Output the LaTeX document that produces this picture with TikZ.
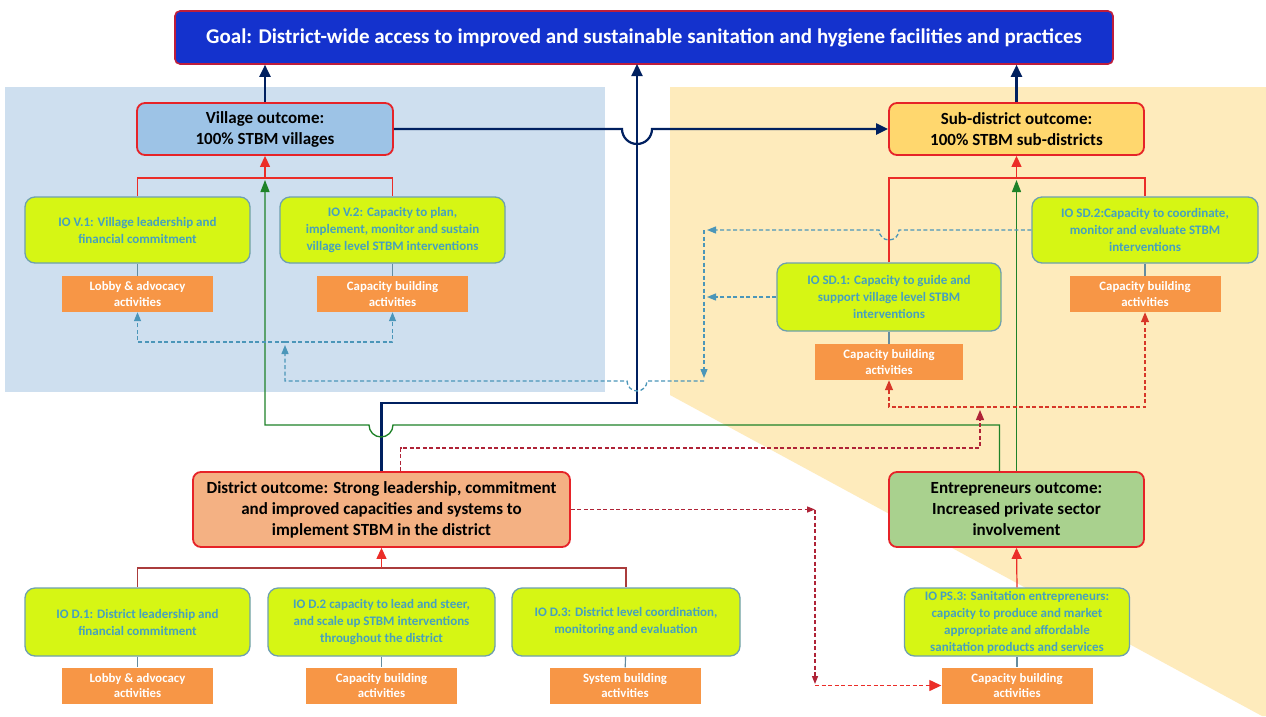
\documentclass[tikz,border=0pt]{standalone}
\usepackage{fontspec}
\setmainfont{Carlito}
\usetikzlibrary{arrows.meta,calc}
\definecolor{goalblue}{RGB}{20,50,205}
\definecolor{goalred}{RGB}{190,30,60}
\definecolor{outred}{RGB}{230,35,40}
\definecolor{navyln}{RGB}{0,32,96}
\definecolor{vilblue}{RGB}{157,195,230}
\definecolor{subgold}{RGB}{255,215,110}
\definecolor{distorange}{RGB}{244,177,131}
\definecolor{entgreen}{RGB}{169,209,142}
\definecolor{iolime}{RGB}{214,246,20}
\definecolor{ioedge}{RGB}{110,160,175}
\definecolor{iotext}{RGB}{70,160,190}
\definecolor{actorange}{RGB}{247,150,70}
\definecolor{bgblue}{RGB}{206,223,239}
\definecolor{bgyellow}{RGB}{254,235,188}
\definecolor{brkred}{RGB}{235,45,40}
\definecolor{brkmaroon}{RGB}{170,60,60}
\definecolor{arrgreen}{RGB}{30,130,40}
\definecolor{dashteal}{RGB}{75,150,185}
\definecolor{dashred}{RGB}{215,55,40}
\definecolor{dashmaroon}{RGB}{175,35,55}
\definecolor{linkgrey}{RGB}{100,140,160}
\begin{document}
\begin{tikzpicture}[x=1pt,y=-1pt,
  goalbox/.style={draw=goalred,line width=1.6pt,fill=goalblue,rounded corners=5pt,text=white,font=\fontsize{21}{24}\selectfont\bfseries,minimum width=938pt,minimum height=53pt},
  outbox/.style={draw=outred,line width=1.8pt,rounded corners=8pt,align=center,font=\fontsize{17}{21}\selectfont\bfseries,minimum height=52pt,inner sep=1pt},
  iobox/.style={draw=ioedge,line width=1.3pt,fill=iolime,rounded corners=10pt,text=iotext,align=center,font=\fontsize{13}{17}\selectfont\bfseries,minimum width=225pt,minimum height=66pt,inner sep=1pt},
  actbox/.style={fill=actorange,text=white,align=center,font=\fontsize{12.8}{15.5}\selectfont\bfseries,minimum width=151pt,minimum height=36pt,inner sep=1pt},
  navyarr/.style={draw=navyln,line width=2.2pt,-{Triangle[length=12pt,width=11pt]}},
  brk/.style={draw=brkred,line width=1.2pt},
  redarr/.style={draw=brkred,line width=1.2pt,-{Triangle[length=11pt,width=10pt]}},
  greenarr/.style={draw=arrgreen,line width=1.3pt,-{Triangle[length=12pt,width=9pt]}},
  tealarr/.style={draw=dashteal,line width=1.3pt,dash pattern=on 4pt off 2.5pt,-{Triangle[length=9pt,width=7pt]}},
  rdarr/.style={draw=dashred,line width=1.3pt,dash pattern=on 4pt off 2.5pt,-{Triangle[length=10pt,width=8pt]}},
  mdarr/.style={draw=dashmaroon,line width=1.3pt,dash pattern=on 4pt off 2.5pt,-{Triangle[length=8pt,width=6pt]}},
  link/.style={draw=linkgrey,line width=1.2pt}]
\useasboundingbox (0,0) rectangle (1266,716);
\fill[white] (0,0) rectangle (1266,716);
\fill[bgblue] (5,87) rectangle (605,392);
\fill[bgyellow] (670,87) -- (1266,87) -- (1266,716) -- (1262,716) -- (670,395) -- cycle;

\node[goalbox] (goal) at (644,37.5) {Goal: District-wide access to improved and sustainable sanitation and hygiene facilities and practices};
\node[outbox,fill=vilblue,minimum width=256pt] (vil) at (265,129) {Village outcome:\\100\% STBM villages};
\node[outbox,fill=subgold,minimum width=255pt] (sub) at (1016.5,129) {Sub-district outcome:\\100\% STBM sub-districts};
\node[iobox] (iov1) at (137.5,230) {IO V.1: Village leadership and\\financial commitment};
\node[iobox] (iov2) at (392.5,230) {IO V.2: Capacity to plan,\\implement, monitor and sustain\\village level STBM interventions};
\node[actbox] (lobv) at (137.5,294) {Lobby \& advocacy\\activities};
\node[actbox] (capv) at (392.5,294) {Capacity building\\activities};
\node[iobox,minimum width=226pt] (sd2) at (1145,230) {IO SD.2:Capacity to coordinate,\\monitor and evaluate STBM\\interventions};
\node[actbox] (sd2cap) at (1145,294) {Capacity building\\activities};
\node[iobox,minimum width=224pt,minimum height=68pt] (sd1) at (889,297) {IO SD.1: Capacity to guide and\\support village level STBM\\interventions};
\node[actbox,minimum width=148pt] (sd1cap) at (889,362) {Capacity building\\activities};
\node[outbox,fill=distorange,minimum width=377pt,minimum height=75pt] (dist) at (381.5,509.5) {District outcome: Strong leadership, commitment\\and improved capacities and systems to\\implement STBM in the district};
\node[outbox,fill=entgreen,minimum width=255pt,minimum height=75pt] (ent) at (1016.5,509.5) {Entrepreneurs outcome:\\Increased private sector\\involvement};
\node[iobox,minimum height=68pt] (iod1) at (137.5,622) {IO D.1: District leadership and\\financial commitment};
\node[iobox,minimum width=227pt,minimum height=68pt] (iod2) at (381.5,622) {IO D.2 capacity to lead and steer,\\and scale up STBM interventions\\throughout  the district};
\node[iobox,minimum width=228pt,minimum height=68pt] (iod3) at (626,622) {IO D.3: District level coordination,\\monitoring and evaluation};
\node[iobox,minimum height=68pt] (ps3) at (1017,622) {IO PS.3: Sanitation entrepreneurs:\\capacity to produce and market\\appropriate and affordable\\sanitation products and services};
\node[actbox] (lobd) at (137.5,685.5) {Lobby \& advocacy\\activities};
\node[actbox] (capd) at (381.5,685.5) {Capacity building\\activities};
\node[actbox] (sysd) at (625,685.5) {System building\\activities};
\node[actbox] (pscap) at (1017,685.5) {Capacity building\\activities};

\coordinate (gmid) at (637,64);
\coordinate (vjoin) at (265,178);
\coordinate (sjoin) at (1016.5,178);
\coordinate (djoin) at (381.5,568);
\coordinate (tcorner) at (704,381);
\coordinate (tsplit) at (285,342);
\coordinate (rsplit) at (980,407);
\coordinate (mcorner) at (815,509.5);

\draw[link] (iov1) -- (lobv);
\draw[link] (iov2) -- (capv);
\draw[link] (sd2) -- (sd2cap);
\draw[link] (sd1) -- (sd1cap);
\draw[link] (iod1) -- (lobd);
\draw[link] (iod2) -- (capd);
\draw[link] (iod3) -- (sysd);
\draw[link] (ps3) -- (pscap);

\draw[brk] (iov1.north) |- (vjoin) -| (iov2.north);
\draw[redarr] (vjoin) -- (vil.south);
\draw[brk] (sd1.north) |- (sjoin) -| (sd2.north);
\draw[redarr] (sjoin) -- (sub.south);
\draw[brk,draw=brkmaroon] (iod1.north) |- (djoin) -| (iod3.north);
\draw[redarr] (djoin) -- (dist.south);
\draw[redarr] (ps3.north) -- (ent.south);

\draw[navyarr] (vil.north) -- (vil.north |- goal.south);
\draw[navyarr] (sub.north) -- (sub.north |- goal.south);
\draw[navyarr] (dist.north) -- ++(0,-68) -| (gmid);
\draw[navyarr] (vil.east) -- (622,129) arc[start angle=180,end angle=0,radius=15] -- (sub.west);

\draw[greenarr] ($(ent.north)+(-17,0)$) |- (393,425) arc[start angle=0,end angle=180,radius=12] -| (265,180);
\draw[greenarr] (ent.north) -- (1016.5,180);

\draw[tealarr] (sd2.west) -- (899,230) arc[start angle=0,end angle=180,radius=10] -- (707,230);
\draw[tealarr] (sd1.west) -- (707,297);
\draw[tealarr] (704,230) -- (704,378);
\draw[tealarr] (tcorner) -- (647,381) arc[start angle=0,end angle=180,radius=10] -| (285,345);
\draw[tealarr] (tsplit) -| (lobv.south);
\draw[tealarr] (tsplit) -| (capv.south);

\draw[rdarr,draw=dashmaroon] ($(dist.north)+(19,0)$) |- (980,448) -- (980,410);
\draw[rdarr] (rsplit) -| (sd1cap.south);
\draw[rdarr] (rsplit) -| (sd2cap.south);

\draw[mdarr] (dist.east) -- (mcorner);
\draw[mdarr] (mcorner) -- (815,684);
\draw[mdarr,-{Triangle[length=12pt,width=11pt]},draw=brkred] (815,685.5) -- (pscap.west);
\end{tikzpicture}
\end{document}
